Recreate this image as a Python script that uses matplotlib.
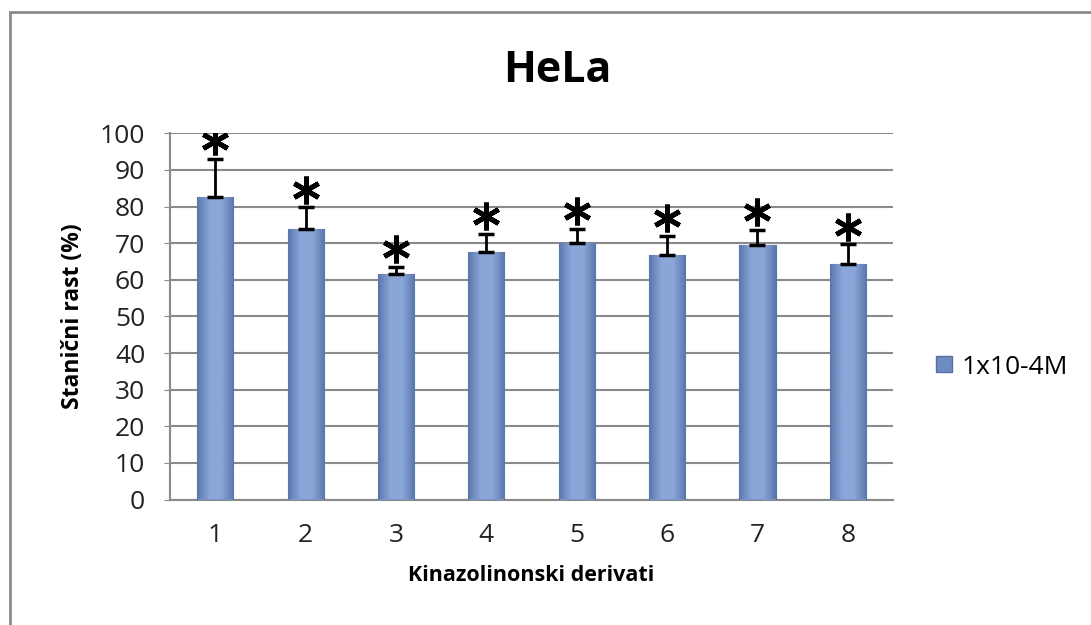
import numpy as np
import matplotlib.pyplot as plt
from matplotlib.colors import LinearSegmentedColormap
from matplotlib.lines import Line2D
from matplotlib.patches import Rectangle

categories = ['1', '2', '3', '4', '5', '6', '7', '8']
values = [82.6, 73.9, 61.6, 67.5, 70.0, 66.8, 69.5, 64.4]
errors = [10.4, 5.9, 1.9, 5.1, 4.0, 5.2, 4.1, 5.3]
series_name = '1x10-4M'

plt.rcParams['font.family'] = ['Open Sans', 'DejaVu Sans']

fig = plt.figure(figsize=(10.91, 6.25), dpi=100)
ax = fig.add_axes([0.156, 0.2008, 0.6625, 0.5859])

# outer frame of the chart area
fig.patches.append(Rectangle((10 / 1091, -0.1), 1.2, 1 - 12 / 625 + 0.1,
                             transform=fig.transFigure, fill=False,
                             edgecolor='#8a8a8a', linewidth=2, zorder=0))

x = np.arange(len(categories))
bars = ax.bar(x, values, width=0.4, color='#7b97cc', edgecolor='#56709f',
              linewidth=0.8, zorder=3)

# shaded look on each bar
cmap = LinearSegmentedColormap.from_list('bar', ['#5a77ad', '#8aa6d8', '#8aa6d8', '#5a77ad'])
grad = np.linspace(0, 1, 64).reshape(1, -1)
for b in bars:
    im = ax.imshow(grad, cmap=cmap, aspect='auto', zorder=3.5,
                   extent=(b.get_x(), b.get_x() + b.get_width(), 0, b.get_height()))
    im.set_clip_path(b)

ax.errorbar(x, values, yerr=[np.zeros(len(errors)), errors], fmt='none',
            ecolor='black', elinewidth=2, capsize=6, capthick=2.5, zorder=4)
# significance asterisks (six spokes, one vertical)
ax.plot(x, np.array(values) + np.array(errors) + 4.8, linestyle='none',
        marker=(6, 2, 0), markersize=20, markeredgewidth=3.5,
        color='black', zorder=5)

ax.set_ylim(0, 100)
ax.set_xlim(-0.5, len(categories) - 0.5)
ax.set_yticks(range(0, 101, 10))
ax.set_xticks(x)
ax.set_xticklabels(categories)
ax.tick_params(axis='both', labelsize=19, colors='#222222', length=0, pad=17)
ax.tick_params(axis='y', length=4, color='#8a8a8a', pad=14)
ax.yaxis.grid(True, color='#8a8a8a', linewidth=1.5, zorder=0)
ax.set_axisbelow(True)
for s in ['top', 'right']:
    ax.spines[s].set_visible(False)
for s in ['left', 'bottom']:
    ax.spines[s].set_color('#8a8a8a')
    ax.spines[s].set_linewidth(1.5)

fig.text(0.5105, 1 - 82 / 625, 'HeLa', fontsize=31, fontweight='bold',
         ha='center', va='baseline')
ax.set_xlabel('Kinazolinonski derivati', fontsize=15.5, fontweight='bold', labelpad=12)
ax.set_ylabel('Stanični rast (%)', fontsize=16.5, fontweight='bold', labelpad=11)

handle = Line2D([], [], linestyle='none', marker='s', markersize=11,
                markerfacecolor='#6e8cc4', markeredgecolor='#56709f')
fig.legend([handle], [series_name], loc='center left',
           bbox_to_anchor=(0.835, 0.4128), frameon=False, fontsize=19,
           handlelength=0.7, handletextpad=0.3)

fig.savefig('out.png', dpi=100)
